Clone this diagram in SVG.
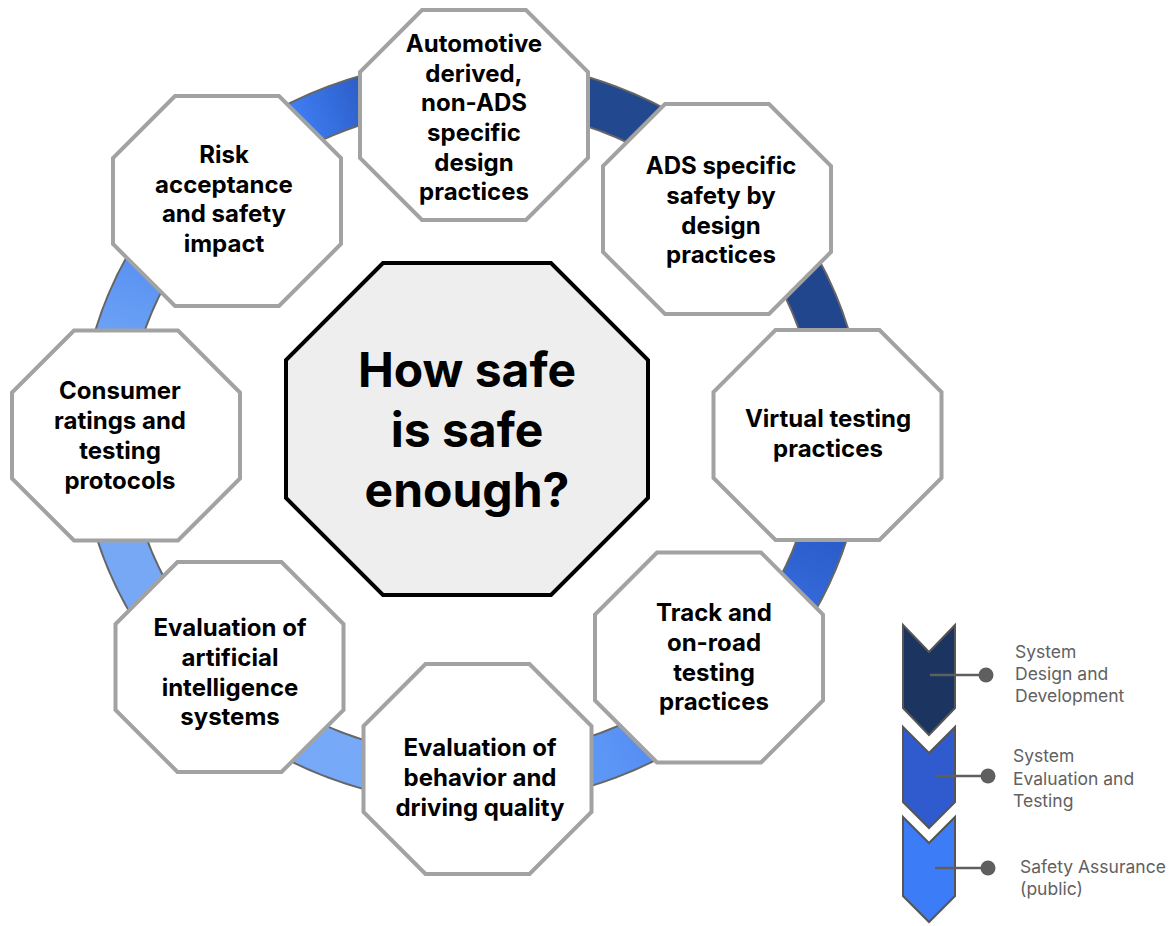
<svg xmlns="http://www.w3.org/2000/svg" width="1171" height="926" viewBox="0 0 1171 926">
<style>
.oct{fill:#ffffff;stroke:#a2a2a2;stroke-width:4;stroke-linejoin:miter}
.core{fill:#eeeeee;stroke:#000000;stroke-width:4}
.lbl{font-family:Inter,"Noto Sans",sans-serif;font-weight:700;font-size:24px;fill:#000;text-anchor:middle}
.big{font-family:Inter,"Noto Sans",sans-serif;font-weight:700;font-size:48px;fill:#000;text-anchor:middle}
.leg{font-family:Inter,"Noto Sans",sans-serif;font-weight:400;font-size:17.5px;fill:#616161}
.seg{fill:none;stroke-width:45;stroke-linecap:butt}
.chev{stroke:#555555;stroke-width:2}
.lline{stroke:#5f5f5f;stroke-width:2.5}
.dot{fill:#5f5f5f}
</style>
<defs>
<linearGradient id="g8" gradientUnits="userSpaceOnUse" x1="290" y1="105" x2="362" y2="78"><stop offset="0" stop-color="#3f7ef3"/><stop offset="1" stop-color="#2b5cc6"/></linearGradient>
<linearGradient id="g3" gradientUnits="userSpaceOnUse" x1="830" y1="540" x2="800" y2="600"><stop offset="0" stop-color="#2b5dcb"/><stop offset="1" stop-color="#3569d9"/></linearGradient>
<linearGradient id="g4" gradientUnits="userSpaceOnUse" x1="660" y1="715" x2="592" y2="745"><stop offset="0" stop-color="#5189ef"/><stop offset="1" stop-color="#5d97f6"/></linearGradient>
<linearGradient id="g7" gradientUnits="userSpaceOnUse" x1="130" y1="255" x2="105" y2="330"><stop offset="0" stop-color="#5991f2"/><stop offset="1" stop-color="#6ba1f5"/></linearGradient>
</defs>

<g id="ring">
<ellipse cx="472" cy="432" rx="368" ry="348" fill="none" stroke="#666666" stroke-width="49"/>
<path class="seg" stroke="#22488f" d="M 472 84 A 368 348 0 0 1 732.2 185.9"/>
<path class="seg" stroke="#21468e" d="M 732.2 185.9 A 368 348 0 0 1 840 432"/>
<path class="seg" stroke="url(#g3)" d="M 840 432 A 368 348 0 0 1 732.2 678.1"/>
<path class="seg" stroke="url(#g4)" d="M 732.2 678.1 A 368 348 0 0 1 472 780"/>
<path class="seg" stroke="#76a9f8" d="M 472 780 A 368 348 0 0 1 211.8 678.1"/>
<path class="seg" stroke="#76a8f6" d="M 211.8 678.1 A 368 348 0 0 1 104 432"/>
<path class="seg" stroke="url(#g7)" d="M 104 432 A 368 348 0 0 1 211.8 185.9"/>
<path class="seg" stroke="url(#g8)" d="M 211.8 185.9 A 368 348 0 0 1 472 84"/>
</g>

<g id="center">
<polygon class="core" points="383,263 551,263 648,360 648,498 551,595 383,595 286,498 286,360"/>
<text class="big"><tspan x="467" y="387">How safe</tspan><tspan x="467" y="447">is safe</tspan><tspan x="467" y="507">enough?</tspan></text>
</g>

<g id="automotive">
<polygon class="oct" points="422,10 526,10 588,72 588,158 526,220 422,220 360,158 360,72"/>
<text class="lbl"><tspan x="474" y="52">Automotive</tspan><tspan x="474" y="82">derived,</tspan><tspan x="474" y="111">non-ADS</tspan><tspan x="474" y="141">specific</tspan><tspan x="474" y="171">design</tspan><tspan x="474" y="200">practices</tspan></text>
</g>

<g id="ads">
<polygon class="oct" points="665,104 769,104 831,166 831,252 769,314 665,314 603,252 603,166"/>
<text class="lbl"><tspan x="721" y="174">ADS specific</tspan><tspan x="721" y="204">safety by</tspan><tspan x="721" y="234">design</tspan><tspan x="721" y="263">practices</tspan></text>
</g>

<g id="virtual">
<polygon class="oct" points="775.5,330 879.5,330 941.5,392 941.5,478 879.5,540 775.5,540 713.5,478 713.5,392"/>
<text class="lbl"><tspan x="828" y="427">Virtual testing</tspan><tspan x="828" y="457">practices</tspan></text>
</g>

<g id="track">
<polygon class="oct" points="657,552.5 761,552.5 823,614.5 823,700.5 761,762.5 657,762.5 595,700.5 595,614.5"/>
<text class="lbl"><tspan x="714" y="621">Track and</tspan><tspan x="714" y="651">on-road</tspan><tspan x="714" y="681">testing</tspan><tspan x="714" y="710">practices</tspan></text>
</g>

<g id="behavior">
<polygon class="oct" points="425.5,664 529.5,664 591.5,726 591.5,812 529.5,874 425.5,874 363.5,812 363.5,726"/>
<text class="lbl"><tspan x="480" y="756">Evaluation of</tspan><tspan x="480" y="786">behavior and</tspan><tspan x="480" y="816">driving quality</tspan></text>
</g>

<g id="ai">
<polygon class="oct" points="177.5,562 281.5,562 343.5,624 343.5,710 281.5,772 177.5,772 115.5,710 115.5,624"/>
<text class="lbl"><tspan x="230" y="636">Evaluation of</tspan><tspan x="230" y="666">artificial</tspan><tspan x="230" y="696">intelligence</tspan><tspan x="230" y="725">systems</tspan></text>
</g>

<g id="consumer">
<polygon class="oct" points="74,330.5 178,330.5 240,392.5 240,478.5 178,540.5 74,540.5 12,478.5 12,392.5"/>
<text class="lbl"><tspan x="120" y="399">Consumer</tspan><tspan x="120" y="429">ratings and</tspan><tspan x="120" y="459">testing</tspan><tspan x="120" y="489">protocols</tspan></text>
</g>

<g id="risk">
<polygon class="oct" points="175,96 279,96 341,158 341,244 279,306 175,306 113,244 113,158"/>
<text class="lbl"><tspan x="224" y="163">Risk</tspan><tspan x="224" y="193">acceptance</tspan><tspan x="224" y="222">and safety</tspan><tspan x="224" y="252">impact</tspan></text>
</g>

<g id="legend-design">
<polygon class="chev" fill="#1b3560" points="903,625 929,652 955,625 955,708 929,735 903,708"/>
<line class="lline" x1="930" y1="675" x2="986" y2="675"/>
<circle class="dot" cx="986" cy="675" r="7.5"/>
<text class="leg"><tspan x="1015" y="658">System</tspan><tspan x="1015" y="680">Design and</tspan><tspan x="1015" y="702">Development</tspan></text>
</g>

<g id="legend-evaluation">
<polygon class="chev" fill="#2f5bcf" points="903,727 929,753 955,727 955,802 929,828 903,802"/>
<line class="lline" x1="935" y1="776" x2="988" y2="776"/>
<circle class="dot" cx="988" cy="776" r="7.5"/>
<text class="leg"><tspan x="1013" y="762">System</tspan><tspan x="1013" y="785">Evaluation and</tspan><tspan x="1013" y="807">Testing</tspan></text>
</g>

<g id="legend-assurance">
<polygon class="chev" fill="#3c7cf6" points="903,817 929,843 955,817 955,896 929,922 903,896"/>
<line class="lline" x1="935" y1="868" x2="988" y2="868"/>
<circle class="dot" cx="988" cy="868" r="7.5"/>
<text class="leg"><tspan x="1020" y="873">Safety Assurance</tspan><tspan x="1020" y="895">(public)</tspan></text>
</g>
</svg>
